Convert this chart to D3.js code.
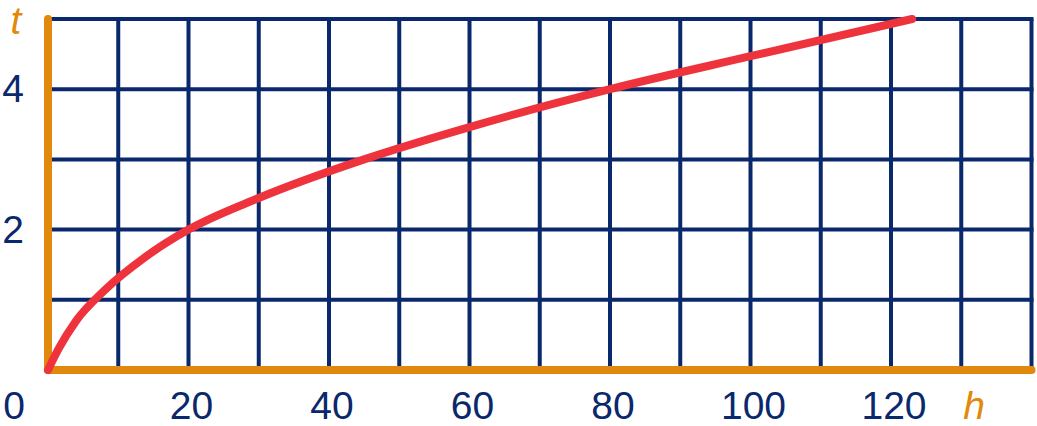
<!DOCTYPE html>
<html><head><meta charset="utf-8">
<script src="https://cdn.jsdelivr.net/npm/d3@7"></script>
<style>html,body{margin:0;padding:0;background:#fff;}svg{display:block;}</style>
</head><body>
<svg id="c" width="1037" height="426"></svg>
<script>
const hValues = [0, 1.5, 4, 8, 14, 20, 30, 45, 60, 80, 100, 123];
const tValues = [0, 0.3, 0.7, 1.13, 1.62, 2.0, 2.45, 3.0, 3.46, 4.0, 4.47, 5.0];
const xTickLabels = [20, 40, 60, 80, 100, 120];
const yTickLabels = [2, 4];
const xGrid = [10,20,30,40,50,60,70,80,90,100,110,120,130,140];
const yGrid = [1,2,3,4,5];

const navy = "#0a286c", orange = "#e0890c", red = "#ee333d";
const svg = d3.select("#c");
const x = d3.scaleLinear().domain([0, 140]).range([48, 1031.5]);
const y = d3.scaleLinear().domain([0, 5]).range([370, 19]);

const g = svg.append("g");
g.selectAll("line.v").data(xGrid).join("line")
  .attr("x1", d => x(d)).attr("x2", d => x(d)).attr("y1", y(0)).attr("y2", y(5))
  .attr("stroke", navy).attr("stroke-width", 4);
g.selectAll("line.h").data(yGrid).join("line")
  .attr("x1", x(0)).attr("x2", x(140)+2).attr("y1", d => y(d)).attr("y2", d => y(d))
  .attr("stroke", navy).attr("stroke-width", 4);

// axes
svg.append("line").attr("x1", x(0)).attr("x2", x(140)).attr("y1", y(0)).attr("y2", y(0))
  .attr("stroke", orange).attr("stroke-width", 8).attr("stroke-linecap", "round");
svg.append("line").attr("x1", x(0)).attr("x2", x(0)).attr("y1", y(0)).attr("y2", y(5))
  .attr("stroke", orange).attr("stroke-width", 8).attr("stroke-linecap", "round");

const pts = hValues.map((h, i) => [h, tValues[i]]);
svg.append("path").datum(pts)
  .attr("d", d3.line().x(d => x(d[0])).y(d => y(d[1])).curve(d3.curveMonotoneX))
  .attr("fill", "none").attr("stroke", red).attr("stroke-width", 8).attr("stroke-linecap", "round");

const font = "Liberation Sans, Arial, sans-serif";
svg.selectAll("text.xl").data(xTickLabels).join("text")
  .attr("x", d => x(d) + 3).attr("y", 419).attr("text-anchor", "middle")
  .attr("font-family", font).attr("font-size", 39).attr("fill", navy).text(d => d);
svg.selectAll("text.yl").data(yTickLabels).join("text")
  .attr("x", 13).attr("y", d => y(d) + 13).attr("text-anchor", "middle")
  .attr("font-family", font).attr("font-size", 39).attr("fill", navy).text(d => d);
svg.append("text").attr("x", 14).attr("y", 419).attr("text-anchor", "middle")
  .attr("font-family", font).attr("font-size", 39).attr("fill", navy).text("0");
svg.append("text").attr("x", 16).attr("y", 34).attr("text-anchor", "middle")
  .attr("font-family", font).attr("font-size", 39).attr("font-style", "italic").attr("fill", orange).text("t");
svg.append("text").attr("x", 974).attr("y", 419).attr("text-anchor", "middle")
  .attr("font-family", font).attr("font-size", 39).attr("font-style", "italic").attr("fill", orange).text("h");
</script>
</body></html>
